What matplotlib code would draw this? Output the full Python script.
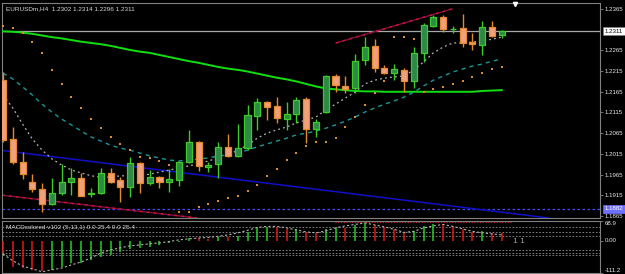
import matplotlib
matplotlib.use("Agg")
import matplotlib.pyplot as plt
import numpy as np
from matplotlib.transforms import blended_transform_factory

plt.rcParams['font.family'] = ['Liberation Sans', 'DejaVu Sans']

# ---------------- data ----------------
symbol_title = "EURUSDm,H4  1.2302 1.2314 1.2296 1.2311"
sub_title = "MACDcolored v102 (5,13,1) 0.0 25.4 0.0 25.4"

opens = [1.2193, 1.2050, 1.1996, 1.1946, 1.1930, 1.1894, 1.1921, 1.1948, 1.1956, 1.1917,
         1.1921, 1.1968, 1.1952, 1.1935, 1.1992, 1.1944, 1.1960, 1.1946, 1.1952, 1.1996,
         1.2043, 1.1984, 1.1990, 1.2032, 1.2011, 1.2028, 1.2107, 1.2140, 1.2131, 1.2099,
         1.2111, 1.2147, 1.2074, 1.2115, 1.2203, 1.2179, 1.2173, 1.2243, 1.2276, 1.2222,
         1.2210, 1.2218, 1.2191, 1.2259, 1.2324, 1.2345, 1.2316, 1.2318, 1.2286, 1.2278,
         1.2321, 1.2302]
highs = [1.2213, 1.2080, 1.2020, 1.1966, 1.1944, 1.1956, 1.1990, 1.1980, 1.1968, 1.1932,
         1.1982, 1.1982, 1.1960, 1.2008, 1.1996, 1.1976, 1.1962, 1.1978, 1.1999, 1.2073,
         1.2047, 1.1996, 1.2044, 1.2063, 1.2087, 1.2133, 1.2151, 1.2142, 1.2152, 1.2141,
         1.2152, 1.2152, 1.2099, 1.2206, 1.2208, 1.2203, 1.2256, 1.2298, 1.2292, 1.2230,
         1.2232, 1.2222, 1.2274, 1.2332, 1.2350, 1.2350, 1.2324, 1.2353, 1.2306, 1.2336,
         1.2337, 1.2314]
lows = [1.2044, 1.1991, 1.1954, 1.1922, 1.1875, 1.1892, 1.1916, 1.1916, 1.1913, 1.1912,
        1.1918, 1.1944, 1.1899, 1.1912, 1.1920, 1.1940, 1.1932, 1.1922, 1.1937, 1.1992,
        1.1974, 1.1972, 1.1956, 1.2008, 1.2007, 1.2024, 1.2073, 1.2097, 1.2090, 1.2073,
        1.2089, 1.2042, 1.2055, 1.2113, 1.2165, 1.2163, 1.2163, 1.2230, 1.2214, 1.2208,
        1.2193, 1.2165, 1.2173, 1.2238, 1.2322, 1.2310, 1.2306, 1.2274, 1.2266, 1.2254,
        1.2297, 1.2296]
closes = [1.2049, 1.1996, 1.1966, 1.1930, 1.1894, 1.1921, 1.1948, 1.1956, 1.1914, 1.1921,
          1.1968, 1.1948, 1.1934, 1.1993, 1.1945, 1.1958, 1.1948, 1.1954, 1.1996, 1.2043,
          1.1986, 1.1987, 1.2032, 1.2011, 1.2028, 1.2109, 1.2140, 1.2128, 1.2101, 1.2111,
          1.2145, 1.2075, 1.2093, 1.2203, 1.2181, 1.2171, 1.2240, 1.2274, 1.2222, 1.2210,
          1.2219, 1.2192, 1.2259, 1.2326, 1.2346, 1.2316, 1.2317, 1.2284, 1.2280, 1.2321,
          1.2300, 1.2311]

ma_fast = [1.2157, 1.2126, 1.2087, 1.2051, 1.2024, 1.2003, 1.1988, 1.1976, 1.1969, 1.1962,
           1.1959, 1.1959, 1.1962, 1.1962, 1.1962, 1.1966, 1.1971, 1.1976, 1.1981, 1.1986,
           1.1991, 1.1998, 1.2005, 1.2012, 1.2024, 1.2036, 1.2053, 1.2065, 1.2073, 1.2080,
           1.2090, 1.2097, 1.2104, 1.2121, 1.2135, 1.2150, 1.2164, 1.2184, 1.2193, 1.2198,
           1.2201, 1.2203, 1.2218, 1.2237, 1.2259, 1.2273, 1.2283, 1.2283, 1.2285, 1.2288,
           1.2292, 1.2297]
ma_mid = [1.2210, 1.2196, 1.2177, 1.2157, 1.2135, 1.2116, 1.2099, 1.2085, 1.2070, 1.2056,
          1.2046, 1.2036, 1.2029, 1.2024, 1.2017, 1.2010, 1.2005, 1.2000, 1.1998, 1.2000,
          1.2003, 1.2005, 1.2010, 1.2012, 1.2017, 1.2024, 1.2032, 1.2039, 1.2046, 1.2053,
          1.2061, 1.2065, 1.2070, 1.2077, 1.2085, 1.2094, 1.2104, 1.2116, 1.2126, 1.2135,
          1.2143, 1.2152, 1.2164, 1.2179, 1.2193, 1.2203, 1.2213, 1.2220, 1.2227, 1.2232,
          1.2239, 1.2244]
ma_slow = [1.2311, 1.2310, 1.2308, 1.2305, 1.2301, 1.2297, 1.2294, 1.2290, 1.2286, 1.2283,
           1.2280, 1.2276, 1.2271, 1.2266, 1.2262, 1.2259, 1.2254, 1.2249, 1.2244, 1.2239,
           1.2235, 1.2230, 1.2225, 1.2221, 1.2218, 1.2214, 1.2209, 1.2204, 1.2199, 1.2195,
           1.2190, 1.2184, 1.2178, 1.2173, 1.2171, 1.2169, 1.2167, 1.2166, 1.2166, 1.2165,
           1.2165, 1.2165, 1.2165, 1.2165, 1.2165, 1.2165, 1.2165, 1.2165, 1.2165, 1.2167,
           1.2168, 1.2169]
sar = [1.2324, 1.2319, 1.2307, 1.2285, 1.2259, 1.2218, 1.2184, 1.2152, 1.2126, 1.2099,
       1.2077, 1.2056, 1.2039, 1.2024, 1.2007, 1.2005, 1.1998, 1.1988, 1.1875, 1.1875,
       1.1887, 1.1894, 1.1901, 1.1908, 1.1913, 1.1925, 1.1940, 1.1962, 1.1978, 1.2000,
       1.2017, 1.2034, 1.2044, 1.2044, 1.2053, 1.2080, 1.2104, 1.2133, 1.2162, 1.2191,
       1.2297, 1.2297, 1.2292, 1.2164, 1.2172, 1.2177, 1.2184, 1.2191, 1.2201, 1.2210,
       1.2220, 1.2225]

macd_hist = [-42.6, -89.0, -94.6, -100.4, -106.0, -100.4, -89.0, -77.4, -75.0, -65.8,
             -54.3, -48.5, -37.0, -28.8, -25.4, -19.6, -13.9, -8.0, -4.6, 9.2,
             9.0, 5.8, 12.7, 12.0, 17.3, 32.3, 47.3, 49.6, 47.3, 40.4,
             41.0, 32.3, 26.6, 41.6, 46.2, 43.9, 55.4, 63.5, 55.4, 47.3,
             40.4, 28.9, 35.8, 52.0, 58.9, 58.8, 52.0, 41.6, 32.3, 34.6,
             28.9, 26.6]
macd_signal = [-45, -69, -87, -97, -107, -100, -94, -83, -73, -59,
               -42, -31, -24, -17, -14, -10, -7, -2, 3.5, 7,
               10, 12, 15.6, 20.8, 27.7, 36.4, 46.8, 50.2, 50.2, 45,
               38, 31, 27.7, 34.6, 45, 52, 57, 62.3, 55.4, 48.5,
               40, 29.4, 33, 45, 52, 57, 50.2, 41.6, 33, 27.7,
               24.2, 20.8]

bid_price = 1.2311
level_price = 1.1882
price_ticks = [1.2365, 1.2265, 1.2215, 1.2165, 1.2115, 1.2065, 1.2015, 1.1965, 1.1915, 1.1865]

# trend lines: (bar index, price) anchors
blue_line = ([0, 50], [1.2023, 1.1877])
red_low_line = ([0, 13], [1.1915, 1.1879])
red_high_line = ([34.05, 45.9], [1.2283, 1.2365])

sub_levels = [48.5, 31.2, 17.3, -31.2, -41.6, -48.5]
sub_max, sub_zero, sub_min = 68.9, 0.0, -111.2

# ---------------- figure ----------------
W, H = 625, 274
fig = plt.figure(figsize=(W / 100, H / 100), dpi=100, facecolor='black')


def rect(l, t, r, b):
    return [l / W, 1 - b / H, (r - l) / W, (b - t) / H]


ax = fig.add_axes(rect(2, 3, 600, 218))
sx = fig.add_axes(rect(2, 221, 600, 273))
for a in (ax, sx):
    a.set_facecolor('black')
    for s in a.spines.values():
        s.set_color('#808080')
        s.set_linewidth(0.8)
    a.set_xticks([])

n = len(opens)
idx = np.arange(n)
xlim = (-0.1023, 61.043)
ax.set_xlim(*xlim)
sx.set_xlim(*xlim)
ax.set_ylim(1.18601, 1.23795)
sx.set_ylim(sub_min, sub_max)

o = np.array(opens); c = np.array(closes); h = np.array(highs); l = np.array(lows)
bull = c >= o

# horizontal lines
ax.axhline(bid_price, color='#a8a8a8', lw=0.9, zorder=1)
ax.axhline(level_price, color='#4848ff', lw=0.9, ls=(0, (2, 2)), zorder=1)

# trend lines
ax.axline((blue_line[0][0], blue_line[1][0]), (blue_line[0][1], blue_line[1][1]),
          color='#1010c8', lw=1.1, zorder=2)
ax.axline((red_low_line[0][0], red_low_line[1][0]), (red_low_line[0][1], red_low_line[1][1]),
          color='#7a1050', lw=1.0, zorder=2)
ax.axline((red_low_line[0][0], red_low_line[1][0]), (red_low_line[0][1], red_low_line[1][1]),
          color='#e01020', lw=1.0, ls=(0, (2, 3)), zorder=2)
ax.plot(red_high_line[0], red_high_line[1], color='#7a1050', lw=1.0, zorder=2)
ax.plot(red_high_line[0], red_high_line[1], color='#e01020', lw=1.0, ls=(0, (2, 3)), zorder=2)

# moving averages
ax.plot(idx, ma_slow, color='#10e010', lw=1.4, zorder=3)
ax.plot(idx, ma_mid, color='#1a9898', lw=1.0, ls=(0, (3, 3)), zorder=3)
ax.plot(idx, ma_fast, color='#b4b4b4', lw=0.9, ls=(0, (1.5, 2.5)), zorder=3)

# candles
ax.vlines(idx[bull], l[bull], h[bull], color='#3ccc28', lw=1.0, zorder=4)
ax.vlines(idx[~bull], l[~bull], h[~bull], color='#e08a28', lw=1.0, zorder=4)
minh = 0.00008
bh = np.maximum(np.abs(c - o), minh)
bb = np.minimum(o, c)
ax.bar(idx[bull], bh[bull], bottom=bb[bull], width=0.62, color='#2c8a44',
       edgecolor='#3ccc28', linewidth=0.9, zorder=5)
ax.bar(idx[~bull], bh[~bull], bottom=bb[~bull], width=0.62, color='#f0a07c',
       edgecolor='#e88a2a', linewidth=0.9, zorder=5)

# parabolic SAR
ax.scatter(idx, sar, marker='s', s=1.6, color='#d88c30', linewidths=0, zorder=6)

# price scale
ax.yaxis.tick_right()
ax.set_yticks(price_ticks)
ax.set_yticklabels([f"{v:.4f}" for v in price_ticks])
ax.tick_params(axis='y', colors='#808080', labelcolor='#e8e8e8', labelsize=4.4,
               length=2, width=0.6, pad=1.5)
tr = blended_transform_factory(ax.transAxes, ax.transData)
ax.text(1.008, bid_price, f"{bid_price:.4f}", transform=tr, fontsize=4.4, color='black',
        va='center', ha='left',
        bbox=dict(boxstyle='square,pad=0.25', fc='white', ec='#808080', lw=0.5), zorder=10,
        clip_on=False)
ax.text(1.008, level_price, f"{level_price:.4f}", transform=tr, fontsize=4.4, color='white',
        va='center', ha='left',
        bbox=dict(boxstyle='square,pad=0.25', fc='#7070ff', ec='#7070ff', lw=0.5), zorder=10,
        clip_on=False)

ax.text(0.006, 0.985, symbol_title, transform=ax.transAxes, fontsize=4.6, color='#d8d8d8',
        va='top', ha='left')
ax.plot([0.858], [0.995], marker='v', color='white', ms=3, transform=ax.transAxes,
        clip_on=False, zorder=10)

# ---------------- sub window ----------------
hist = np.array(macd_hist)
cols = ['#e01818'] + ['#22d022' if hist[i] >= hist[i - 1] else '#e01818' for i in range(1, n)]
sx.vlines(idx, 0, hist, colors=cols, lw=1.1, zorder=3)
sx.plot(idx, macd_signal, color='#b0b0b0', lw=0.8, ls=(0, (2, 2)), zorder=4)
for lv in sub_levels:
    sx.axhline(lv, color='#909090', lw=0.6, ls=(0, (2, 2)), zorder=1)
sx.hlines(66.5, 33.9, 52.0, color='#e02020', lw=0.8, ls=(0, (1, 1.5)), zorder=2)
sx.text(0.006, 0.93, sub_title, transform=sx.transAxes, fontsize=4.6, color='#d8d8d8',
        va='top', ha='left')
sx.text(52.1, -2, "1 1", fontsize=6, color='#a0a0a0', va='center', ha='left')

sx.yaxis.tick_right()
sx.set_yticks([sub_max, sub_zero, sub_min])
sx.set_yticklabels([])
sx.tick_params(axis='y', colors='#808080', length=2, width=0.6)
str_ = blended_transform_factory(sx.transAxes, sx.transData)
sx.text(1.008, sub_max, f"{sub_max:.1f}", transform=str_, fontsize=4.4, color='#e8e8e8',
        va='top', ha='left', clip_on=False)
sx.text(1.008, sub_zero, f"{sub_zero:.2f}", transform=str_, fontsize=4.4, color='#e8e8e8',
        va='center', ha='left', clip_on=False)
sx.text(1.008, sub_min, f"{sub_min:.1f}", transform=str_, fontsize=4.4, color='#e8e8e8',
        va='bottom', ha='left', clip_on=False)

fig.savefig("out.png", dpi=100, facecolor='black')
